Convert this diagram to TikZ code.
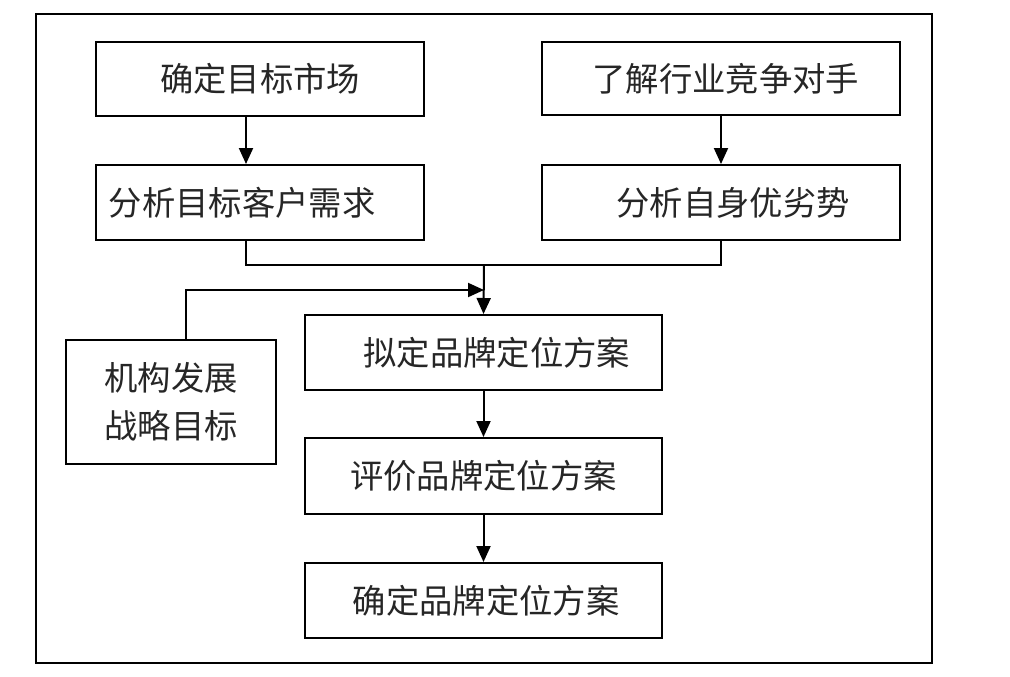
\documentclass[tikz,border=0pt]{standalone}
\usepackage{fontspec}
\newfontfamily\cjk{Noto Sans CJK SC}
\usetikzlibrary{arrows.meta,calc}
\tikzset{
  box/.style={draw=black, line width=1.5pt, inner sep=0pt, text=black!85,
    font=\cjk\fontsize{25pt}{36pt}\selectfont, align=center},
  ln/.style={draw=black, line width=1.5pt},
  arr/.style={ln, -{Triangle[length=12pt,width=10.5pt]}},
}
\newcommand{\pxw}[1]{#1*0.75pt}
\begin{document}
\begin{tikzpicture}[x=0.75pt,y=-0.75pt]
\useasboundingbox (0,0) rectangle (1010,676);
\fill[white] (0,0) rectangle (1010,676);
% outer frame
\draw[ln] (36,14) rectangle (932,663);
% boxes
\node[box, minimum width=\pxw{328}, minimum height=\pxw{74}] (m1) at (260,79) {确定目标市场};
\node[box, minimum width=\pxw{328}, minimum height=\pxw{75}] (m2) at (260,202.5) {分析目标客户需求\hspace*{27pt}};
\node[box, minimum width=\pxw{358}, minimum height=\pxw{73}] (r1) at (721,78.5) {\hspace*{7pt}了解行业竞争对手};
\node[box, minimum width=\pxw{358}, minimum height=\pxw{75}] (r2) at (721,202.5) {\hspace*{18pt}分析自身优劣势};
\node[box, minimum width=\pxw{357}, minimum height=\pxw{75}] (p1) at (483.5,352.5) {\hspace*{20pt}拟定品牌定位方案};
\node[box, minimum width=\pxw{357}, minimum height=\pxw{76}] (p2) at (483.5,476) {评价品牌定位方案};
\node[box, minimum width=\pxw{357}, minimum height=\pxw{75}] (p3) at (483.5,600.5) {\hspace*{4pt}确定品牌定位方案};
\node[box, minimum width=\pxw{210}, minimum height=\pxw{124}] (s) at (171,402) {机构发展\\战略目标};
% connectors
\coordinate (j) at (484,265);
\coordinate (fb) at (484,290);
\draw[arr] ([xshift=-10.5pt]m1.south) -- ([xshift=-10.5pt]m2.north);
\draw[arr] (r1.south) -- (r2.south |- r2.north);
\draw[ln] ([xshift=-10.5pt]m2.south) |- (j) -| (r2.south);
\draw[arr] (j) -- (p1.north);
\draw[arr] ([xshift=11pt]s.north) |- (fb);
\draw[arr] (p1.south) -- (p2.north);
\draw[arr] (p2.south) -- (p3.north);
\end{tikzpicture}
\end{document}
